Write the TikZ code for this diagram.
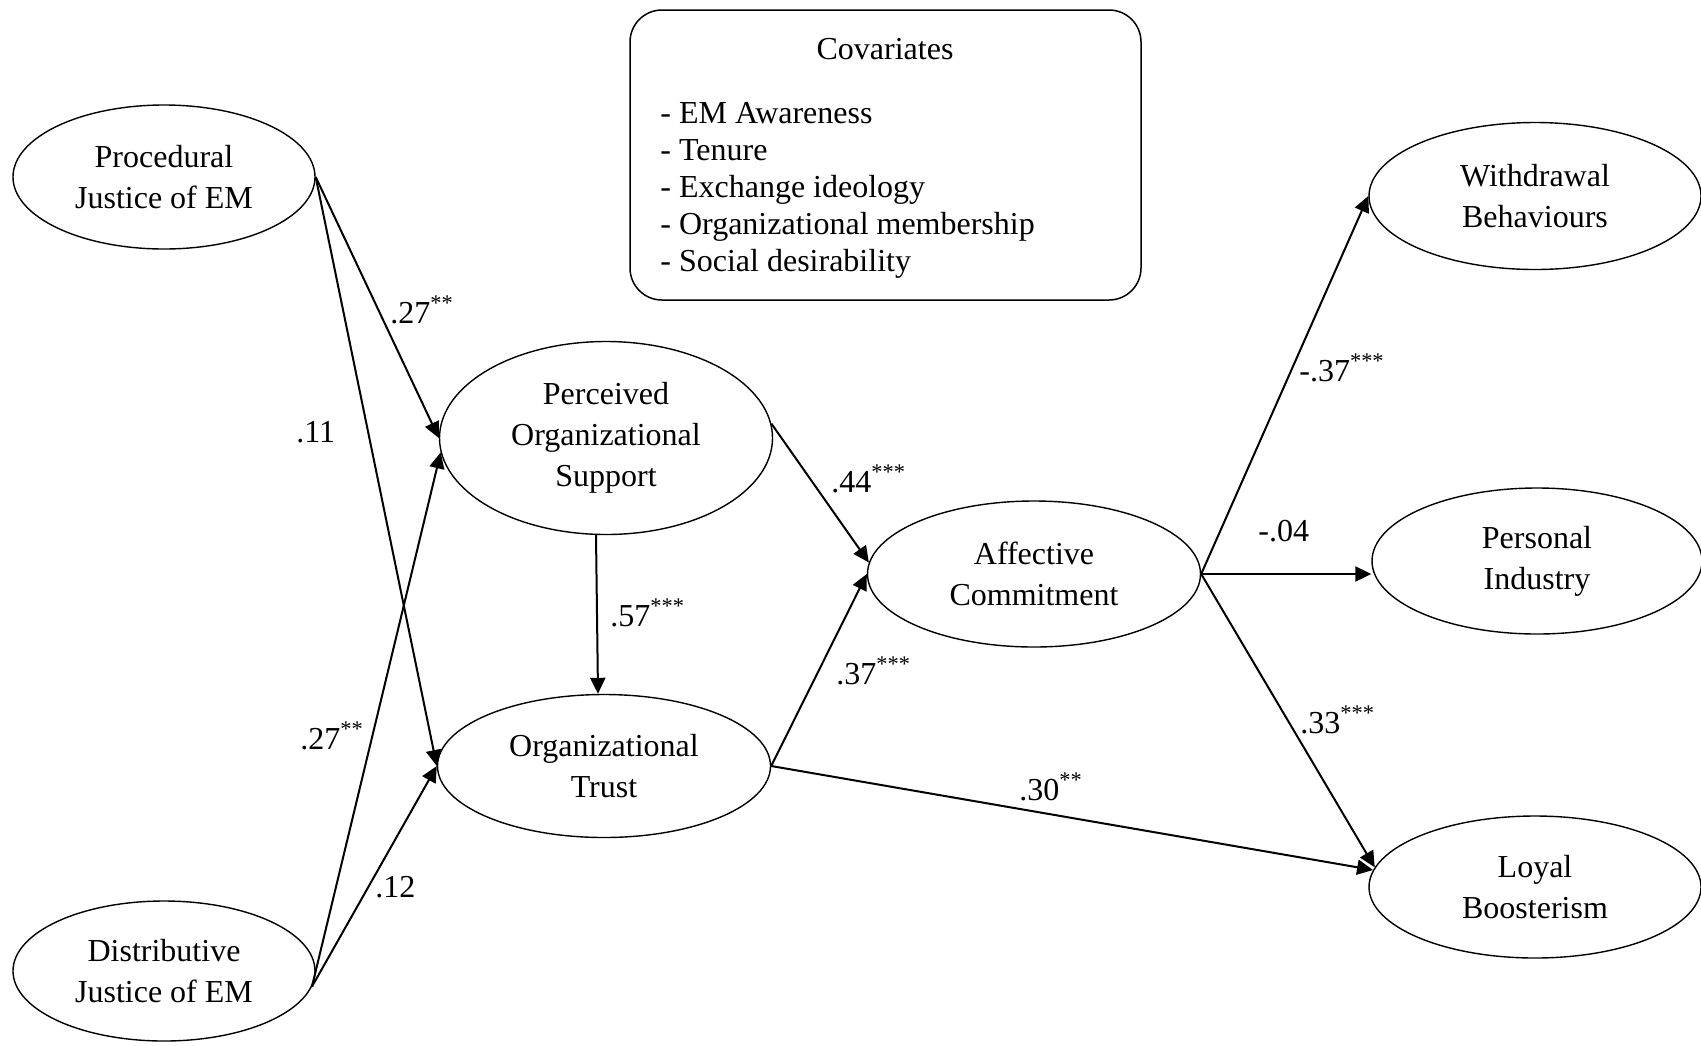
\documentclass[tikz,border=0pt]{standalone}
\usepackage{fontspec}
\setmainfont{Liberation Serif}
\usetikzlibrary{shapes.geometric,arrows.meta}
\begin{document}
\begin{tikzpicture}[x=0.5pt,y=-0.5pt,
  latent/.style={ellipse,draw,line width=0.7pt,inner sep=0pt,align=center,font=\fontsize{16}{20.5}\selectfont},
  pathar/.style={-{Triangle[length=8pt,width=7.5pt]},line width=1pt},
  coef/.style={font=\fontsize{16}{19}\selectfont,inner sep=0pt,anchor=base west}]
\useasboundingbox (0,0) rectangle (1701,1045);
% latent variables
\node[latent,minimum width=151pt,minimum height=72pt] (proc) at (164,177) {Procedural\\Justice of EM};
\node[latent,minimum width=151pt,minimum height=70pt] (dist) at (164,971) {Distributive\\Justice of EM};
\node[latent,minimum width=166.5pt,minimum height=96.5pt] (pos) at (606,438) {Perceived\\Organizational\\Support};
\node[latent,minimum width=166.5pt,minimum height=71.5pt] (ot) at (604,766) {Organizational\\Trust};
\node[latent,minimum width=166.5pt,minimum height=73pt] (ac) at (1034,574) {Affective\\Commitment};
\node[latent,minimum width=166pt,minimum height=73.5pt] (wd) at (1535,196) {Withdrawal\\Behaviours};
\node[latent,minimum width=165pt,minimum height=73pt] (pi) at (1537,561) {Personal\\Industry};
\node[latent,minimum width=166pt,minimum height=71pt] (ly) at (1535,887) {Loyal\\Boosterism};
% covariates box
\node[draw,rounded corners=16pt,line width=0.75pt,minimum width=255.5pt,minimum height=145pt,inner sep=0pt] (cov) at (885.5,155) {};
\node[font=\fontsize{16}{19}\selectfont,inner sep=0pt] (covtitle) at (885,49) {Covariates};
\node[font=\fontsize{16}{18.5}\selectfont,inner sep=0pt,align=left,anchor=west] (covlist) at (660,190)
  {- EM Awareness\\- Tenure\\- Exchange ideology\\- Organizational membership\\- Social desirability};
% paths
\draw[pathar] (proc.east) -- (pos.west);
\draw[pathar] (proc.east) -- (ot.west);
\draw[pathar] (dist.354) -- (pos.185);
\draw[pathar] (dist.354) -- (ot.west);
\draw[pathar] ([xshift=-5pt]pos.south) -- ([xshift=-3pt]ot.north);
\draw[pathar] (pos.5) -- (ac.176);
\draw[pathar] (ot.east) -- (ac.west);
\draw[pathar] (ot.east) -- (ly.174);
\draw[pathar] (ac.east) -- (wd.west);
\draw[pathar] (ac.east) -- (ac.east -| pi.west);
\draw[pathar] (ac.east) -- (ly.173);
% coefficients
\node[coef] (c1) at (390,323) {.27\textsuperscript{**}};
\node[coef] (c2) at (296,442) {.11};
\node[coef] (c3) at (300,749) {.27\textsuperscript{**}};
\node[coef] (c4) at (375,897) {.12};
\node[coef] (c5) at (610,626) {.57\textsuperscript{***}};
\node[coef] (c6) at (831,492) {.44\textsuperscript{***}};
\node[coef] (c7) at (836,684) {.37\textsuperscript{***}};
\node[coef] (c8) at (1019,800) {.30\textsuperscript{**}};
\node[coef] (c9) at (1299,381) {-.37\textsuperscript{***}};
\node[coef] (c10) at (1258,541) {-.04};
\node[coef] (c11) at (1300,733) {.33\textsuperscript{***}};
\end{tikzpicture}
\end{document}
